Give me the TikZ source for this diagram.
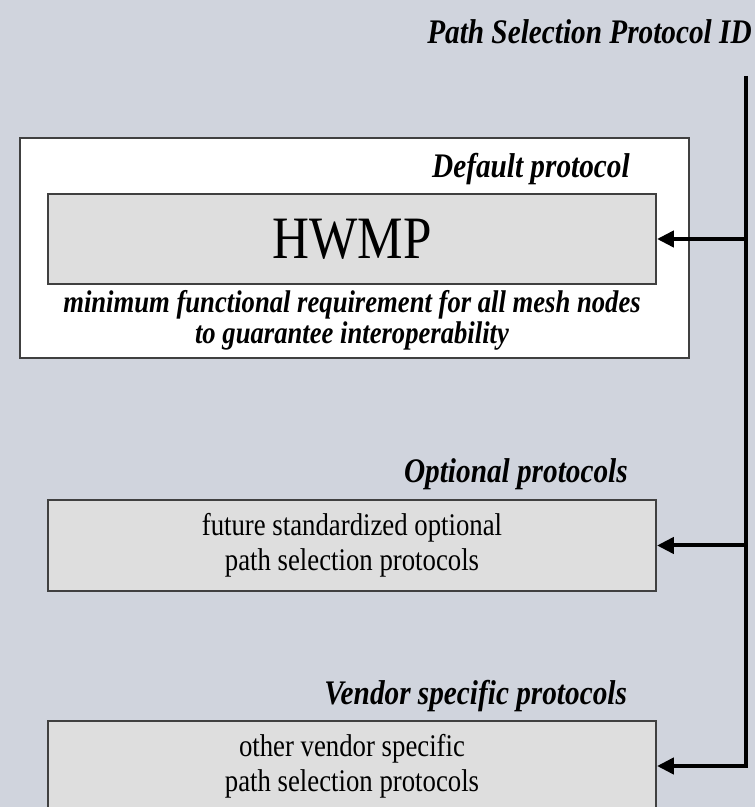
\documentclass[tikz,border=0pt]{standalone}
\usepackage{fontspec}
\setmainfont[FakeStretch=0.85]{Liberation Serif}
\usetikzlibrary{arrows.meta}
\definecolor{pagebg}{RGB}{208,212,221}
\definecolor{boxgray}{RGB}{222,222,222}
\definecolor{edgegray}{RGB}{64,64,64}
\def\labelfont{\fontsize{24.5}{28}\selectfont\bfseries\itshape}
\def\plainfont{\fontsize{22.4}{25}\selectfont}

\begin{document}
\begin{tikzpicture}[
	panel/.style={draw=edgegray, fill=boxgray, line width=0.05cm, minimum width=15.2cm, align=center, inner sep=0pt, font=\plainfont},
	feed/.style={line width=0.1cm, -{Triangle[length=0.42cm,width=0.4cm]}},
	]
	\fill[pagebg] (0,0) rectangle (18.875,20.175);
	\useasboundingbox (0,0) rectangle (18.875,20.175);
	
	\node[anchor=base east, inner sep=0pt, font=\labelfont] (title) at (18.8,19.075) {Path Selection Protocol ID};
	\coordinate (spine) at (18.65,18.275);
	
	% default protocol
	\node[draw=edgegray, fill=white, line width=0.05cm, minimum width=16.725cm, minimum height=5.5cm] (defaultbox) at (8.8625,13.975) {};
	\node[anchor=base east, inner sep=0pt, font=\labelfont] (defaultlabel) at (15.75,15.725) {Default protocol};
	\node[panel, minimum height=2.25cm, font=\fontsize{42.8}{48}\selectfont] (hwmp) at (8.8,14.2) {HWMP};
	\node[align=center, font=\fontsize{22.3}{22}\selectfont\bfseries\itshape] (hwmpnote) at (8.8,12.16) {minimum functional requirement for all mesh nodes\\to guarantee interoperability};
	
	% optional protocols
	\node[anchor=base east, inner sep=0pt, font=\labelfont] (optlabel) at (15.7,8.1) {Optional protocols};
	\node[panel, minimum height=2.275cm] (optional) at (8.8,6.5375) {future standardized optional\\path selection protocols};
	
	% vendor specific protocols
	\node[anchor=base east, inner sep=0pt, font=\labelfont] (vendorlabel) at (15.68,2.55) {Vendor specific protocols};
	\node[panel, minimum height=2.25cm] (vendor) at (8.8,1.025) {other vendor specific\\path selection protocols};
	
	\draw[feed] (spine) -- (spine |- vendor.east) -- (vendor.east);
	\draw[feed] (spine |- hwmp.east) -- (hwmp.east);
	\draw[feed] (spine |- optional.east) -- (optional.east);
\end{tikzpicture}
\end{document}
